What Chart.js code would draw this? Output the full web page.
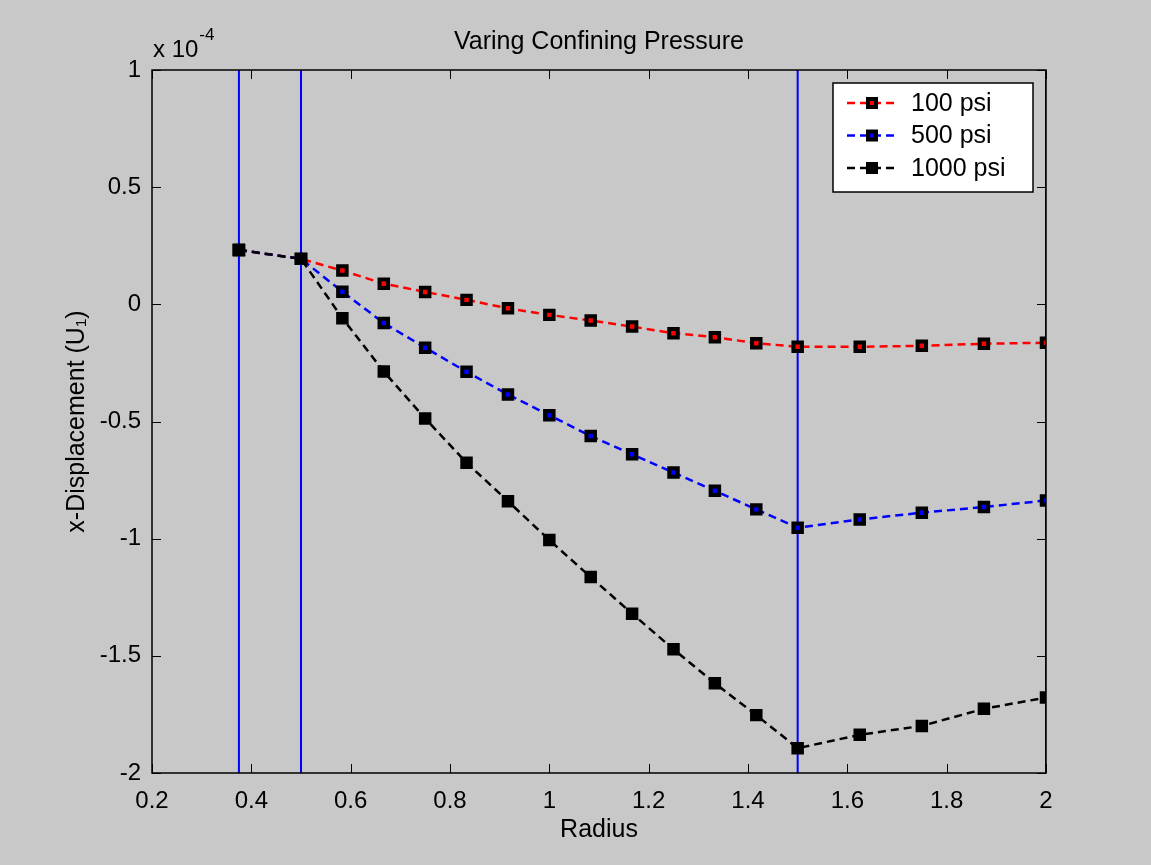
<!DOCTYPE html>
<html>
<head>
<meta charset="utf-8">
<script src="https://cdn.jsdelivr.net/npm/chart.js@4"></script>
<style>
  html, body { margin: 0; padding: 0; background: #c8c8c8; }
  #wrap { width: 1151px; height: 865px; }
</style>
</head>
<body>
<div id="wrap"><canvas id="chart"></canvas></div>
<script>
// data (y in units of 1e-4)
const radius = [0.375, 0.5, 0.5833, 0.6667, 0.75, 0.8333, 0.9167, 1.0, 1.0833, 1.1667, 1.25, 1.3333, 1.4167, 1.5, 1.625, 1.75, 1.875, 2.0];
const psi100 = [0.232, 0.194, 0.144, 0.088, 0.053, 0.019, -0.017, -0.045, -0.069, -0.095, -0.123, -0.14, -0.166, -0.181, -0.181, -0.177, -0.168, -0.164];
const psi500 = [0.232, 0.194, 0.054, -0.08, -0.185, -0.288, -0.385, -0.473, -0.562, -0.64, -0.718, -0.796, -0.875, -0.953, -0.918, -0.889, -0.865, -0.837];
const psi1000 = [0.232, 0.194, -0.059, -0.287, -0.487, -0.676, -0.84, -1.006, -1.164, -1.32, -1.472, -1.617, -1.753, -1.894, -1.837, -1.799, -1.726, -1.678];
const seriesLabels = ["100 psi", "500 psi", "1000 psi"];
const seriesColors = ["#ff0000", "#0000ff", "#000000"];
const boundaries = [0.375, 0.5, 1.5, 2.0];
const yRange = [-2, 1];

const FONT = "'Liberation Sans', Arial, sans-serif";
const FS = 24;

const datasets = [];
[psi100, psi500, psi1000].forEach((vals, i) => {
    datasets.push({
        label: seriesLabels[i],
        data: radius.map((r, k) => ({ x: r, y: vals[k] })),
        borderColor: seriesColors[i],
        backgroundColor: seriesColors[i],
        borderWidth: 2.5,
        borderDash: [8, 5],
        pointStyle: 'rect',
        pointRadius: 6,
        pointBorderColor: '#000',
        pointBorderWidth: 4,
        pointBackgroundColor: seriesColors[i],
        order: 3 - i
    });
});
// vertical blue boundary lines
boundaries.forEach(b => {
    datasets.push({
        label: '_bound',
        data: [{ x: b, y: yRange[0] }, { x: b, y: yRange[1] }],
        borderColor: '#0000ff',
        borderWidth: 2,
        pointRadius: 0,
        order: 10
    });
});

// MATLAB-like box, inward ticks, title, exponent and legend
const matlabDecor = {
    id: 'matlabDecor',
    afterDraw(chart) {
        const ctx = chart.ctx;
        const a = chart.chartArea;
        const xs = chart.scales.x, ys = chart.scales.y;
        ctx.save();
        ctx.strokeStyle = '#000';
        ctx.lineWidth = 1.5;
        ctx.strokeRect(a.left, a.top, a.right - a.left, a.bottom - a.top);
        const tl = 9;
        ctx.beginPath();
        xs.ticks.forEach(t => {
            const px = Math.round(xs.getPixelForValue(t.value)) + 0.5;
            ctx.moveTo(px, a.bottom); ctx.lineTo(px, a.bottom - tl);
            ctx.moveTo(px, a.top); ctx.lineTo(px, a.top + tl);
        });
        ys.ticks.forEach(t => {
            const py = Math.round(ys.getPixelForValue(t.value)) + 0.5;
            ctx.moveTo(a.left, py); ctx.lineTo(a.left + tl, py);
            ctx.moveTo(a.right, py); ctx.lineTo(a.right - tl, py);
        });
        ctx.lineWidth = 1;
        ctx.stroke();

        // title
        ctx.fillStyle = '#000';
        ctx.font = '25px ' + FONT;
        ctx.textAlign = 'center';
        ctx.textBaseline = 'middle';
        ctx.fillText('Varing Confining Pressure', (a.left + a.right) / 2, 42);

        // exponent
        ctx.textAlign = 'left';
        ctx.textBaseline = 'alphabetic';
        ctx.font = FS + 'px ' + FONT;
        ctx.fillText('x 10', a.left + 1, 57);
        const w = ctx.measureText('x 10').width;
        ctx.font = '17px ' + FONT;
        ctx.fillText('-4', a.left + 1 + w + 1, 40);

        // legend
        const lx = 833, ly = 83, lw = 200, lh = 109;
        ctx.fillStyle = '#fff';
        ctx.fillRect(lx, ly, lw, lh);
        ctx.strokeStyle = '#000';
        ctx.lineWidth = 1.5;
        ctx.strokeRect(lx, ly, lw, lh);
        seriesLabels.forEach((lab, i) => {
            const cy = ly + 20 + i * 32.5;
            ctx.strokeStyle = seriesColors[i];
            ctx.lineWidth = 2.5;
            ctx.setLineDash([8, 5]);
            ctx.beginPath();
            ctx.moveTo(847, cy); ctx.lineTo(895, cy);
            ctx.stroke();
            ctx.setLineDash([]);
            ctx.fillStyle = '#000';
            ctx.fillRect(872 - 6, cy - 6, 12, 12);
            ctx.fillStyle = seriesColors[i];
            ctx.fillRect(872 - 2, cy - 2, 4, 4);
            ctx.fillStyle = '#000';
            ctx.font = '25px ' + FONT;
            ctx.textBaseline = 'middle';
            ctx.fillText(lab, 911, cy + 1);
        });
        ctx.restore();
    }
};

const fmt = v => String(Math.round(v * 100) / 100);

new Chart(document.getElementById('chart'), {
    type: 'line',
    data: { datasets },
    options: {
        responsive: true,
        maintainAspectRatio: false,
        animation: false,
        layout: { padding: { top: 70, right: 105, left: 0, bottom: 0 } },
        plugins: {
            legend: { display: false },
            title: { display: false },
            tooltip: { enabled: false }
        },
        scales: {
            x: {
                type: 'linear',
                min: 0.2, max: 2,
                grid: { display: false, drawTicks: false },
                border: { display: false },
                ticks: { stepSize: 0.2, color: '#000', font: { family: FONT, size: FS }, padding: 14, maxRotation: 0, callback: fmt },
                title: { display: true, text: 'Radius', color: '#000', font: { family: FONT, size: 25 }, padding: { top: 0, bottom: 20 } },
                afterFit(s) { s.height = 92; }
            },
            y: {
                type: 'linear',
                min: yRange[0], max: yRange[1],
                grid: { display: false, drawTicks: false },
                border: { display: false },
                ticks: { stepSize: 0.5, color: '#000', font: { family: FONT, size: FS }, padding: 11, callback: fmt },
                title: { display: true, text: 'x-Displacement (U\u2081)', color: '#000', font: { family: FONT, size: 25 }, padding: { top: 62, bottom: 0 } },
                afterFit(s) { s.width = 152; }
            }
        }
    },
    plugins: [matlabDecor]
});
</script>
</body>
</html>
